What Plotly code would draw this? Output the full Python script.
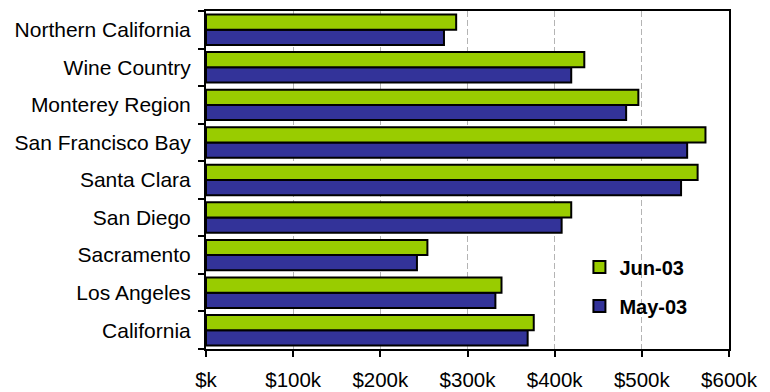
import plotly.graph_objects as go

# Categories listed bottom-to-top (Plotly draws the first category at the bottom)
categories = ["California", "Los Angeles", "Sacramento", "San Diego", "Santa Clara",
              "San Francisco Bay", "Monterey Region", "Wine Country", "Northern California"]
may_03 = [369, 332, 242, 408, 545, 552, 482, 419, 273]   # $k
jun_03 = [376, 339, 254, 419, 564, 573, 496, 434, 287]   # $k
tick_vals = [0, 100, 200, 300, 400, 500, 600]
tick_text = ["$k", "$100k", "$200k", "$300k", "$400k", "$500k", "$600k"]

FONT = "Arial, Liberation Sans, sans-serif"

fig = go.Figure()
fig.add_trace(go.Bar(
    y=categories, x=may_03, name="May-03", orientation="h",
    marker=dict(color="#333399", line=dict(color="black", width=2)),
    legendgroup="may", legendrank=2,
))
fig.add_trace(go.Bar(
    y=categories, x=jun_03, name="Jun-03", orientation="h",
    marker=dict(color="#99CC00", line=dict(color="black", width=2)),
    legendgroup="jun", legendrank=1,
))

fig.update_layout(
    width=770, height=392,
    margin=dict(l=206, r=41, t=11, b=43, autoexpand=False),
    paper_bgcolor="white", plot_bgcolor="white",
    barmode="group", bargap=0.19, bargroupgap=0,
    font=dict(family=FONT, size=20, color="black"),
    showlegend=True,
    legend=dict(
        x=0.714, y=0.30, xanchor="left", yanchor="top",
        traceorder="grouped", tracegroupgap=10,
        font=dict(family=FONT, size=20, color="black", weight="bold"),
        bgcolor="rgba(0,0,0,0)", borderwidth=0,
    ),
    xaxis=dict(
        range=[0, 600], tickvals=tick_vals, ticktext=tick_text,
        showgrid=True, gridcolor="#b4b4b4", gridwidth=1, griddash="6px,3px",
        showline=True, linecolor="black", linewidth=2, mirror=True,
        ticks="outside", ticklen=6, tickwidth=2, tickcolor="black",
        ticklabelstandoff=5, automargin=False,
        zeroline=False, fixedrange=True,
        tickfont=dict(family=FONT, size=20.5, color="black"),
    ),
    yaxis=dict(
        type="category", categoryorder="array", categoryarray=categories,
        showgrid=False,
        showline=True, linecolor="black", linewidth=2, mirror=True,
        ticks="outside", ticklen=6, tickwidth=2, tickcolor="black",
        tickson="boundaries", ticklabelstandoff=9, automargin=False,
        tickfont=dict(family=FONT, size=21, color="black"),
        fixedrange=True,
    ),
)

fig.write_html("out.html")
